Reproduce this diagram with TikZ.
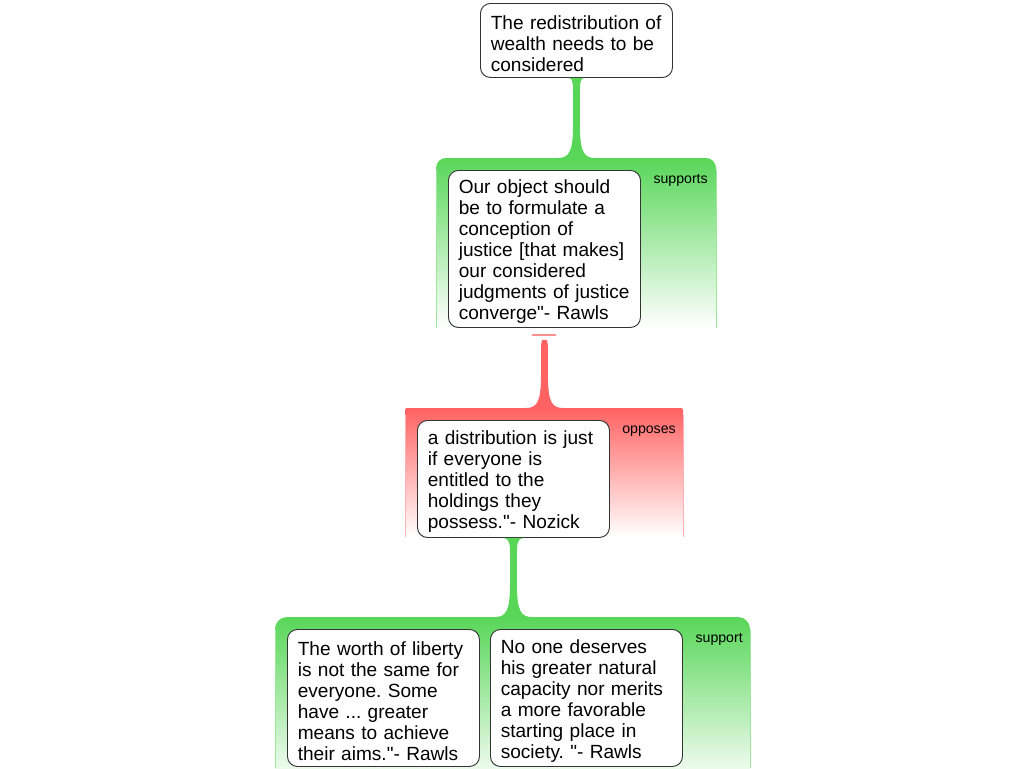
\documentclass[tikz,border=0pt]{standalone}
\usepackage{fontspec}
\setmainfont{Liberation Sans}[Ligatures=TeXOff]
\usetikzlibrary{calc}
\frenchspacing
\definecolor{supbg}{RGB}{88,214,88}
\definecolor{oppbg}{RGB}{255,98,98}
\tikzset{mpp/.style={
  x=0.75pt,
  y=-0.75pt
}}
\tikzset{agn/.style={
  draw=black!80,
  line width=0.7pt,
  fill=white,
  rounded corners=7.5pt,
  anchor=north west,
  text width=128.5pt,
  inner xsep=7.75pt,
  inner ysep=2pt,
  align=left,
  execute at begin node={\rule{0pt}{15pt}},
  font=\fontsize{14.3}{15.75}\selectfont
}}
\tikzset{lbl/.style={anchor=east,inner sep=0pt,font=\fontsize{10.6}{12}\selectfont}}
\tikzset{pside/.style={line width=0.75pt}}
% flared link: colour, from, to, top half width
\newcommand{\flr}[4]{%
  \fill[#1] let \p1=(#2), \p2=(#3) in
    (\x1-#4,\y1) .. controls (\x1-2.6pt,\y1) and (\x1-2.6pt,\y1-6pt) .. (\x1-2.6pt,\y1-12pt)
    -- (\x1-2.6pt,\y2+24pt) .. controls (\x1-2.6pt,\y2+4pt) and (\x1-6pt,\y2) .. (\x1-14pt,\y2)
    -- (\x1+14pt,\y2) .. controls (\x1+6pt,\y2) and (\x1+2.6pt,\y2+4pt) .. (\x1+2.6pt,\y2+24pt)
    -- (\x1+2.6pt,\y1-12pt) .. controls (\x1+2.6pt,\y1-6pt) and (\x1+2.6pt,\y1) .. (\x1+#4,\y1) -- cycle;}

\begin{document}
\begin{tikzpicture}[mpp]
    \clip (0,0) rectangle (1024,768);

    % Panels
    \shade[top color=supbg,bottom color=white] (436,328)
      [rounded corners=7.5pt] -- (436,158) -- (716,158) -- (716,328)
      [sharp corners] -- cycle;
    \draw[pside,supbg!60] (436,170) -- (436,328) (716,170) -- (716,328);
    \shade[top color=oppbg,bottom color=white] (405,537)
      [rounded corners=1.5pt] -- (405,408) -- (683,408) -- (683,537)
      [sharp corners] -- cycle;
    \draw[pside,oppbg!50] (405,415) -- (405,537) (683,415) -- (683,537);
    \shade[top color=supbg,bottom color=white] (275,787)
      [rounded corners=9pt] -- (275,617) -- (750,617) -- (750,787)
      [sharp corners] -- cycle;
    \draw[pside,supbg!60] (275,630) -- (275,768) (750,630) -- (750,768);

    \coordinate (supTop) at (576,158);
    \coordinate (oppTop) at (544,408);
    \coordinate (sptTop) at (513,617);

    % Labels
    \node[lbl] (supL) at (708,180) {supports};
    \node[lbl] (oppL) at (676,431) {opposes};
    \node[lbl] (sptL) at (743,639) {support};

    % Arguments
    \node[agn,minimum height=55.5pt] (wealth) at (480,3)
      {The redistribution of\\wealth needs to be\\considered};
    \node[agn,minimum height=117.75pt] (obj) at (448,170)
      {Our object should\\be to formulate a\\conception of\\justice [that makes]\\our considered\\judgments of justice\\converge"- Rawls};
    \node[agn,minimum height=87.75pt] (dist) at (417,420)
      {a distribution is just\\if everyone is\\entitled to the\\holdings they\\possess."- Nozick};
    \node[agn,minimum height=102.75pt] (worth) at (287,629)
      {The worth of liberty\\is not the same for\\everyone. Some\\have ... greater\\means to achieve\\their aims."- Rawls};
    \node[agn,minimum height=102.75pt] (desv) at (490,629)
      {No one deserves\\his greater natural\\capacity nor merits\\a more favorable\\starting place in\\society. "- Rawls};

    % Links
    \flr{supbg}{wealth.south}{supTop}{5.5pt}
    \coordinate (oppFrom) at ($(obj.south)+(0,12)$);
    \draw[oppbg!70,line width=1.5pt] ($(obj.south)+(-12,7)$) -- ($(obj.south)+(12,7)$);
    \flr{oppbg}{oppFrom}{oppTop}{1.5pt}
    \flr{supbg}{dist.south}{sptTop}{7.5pt}

  \end{tikzpicture}
\end{document}
